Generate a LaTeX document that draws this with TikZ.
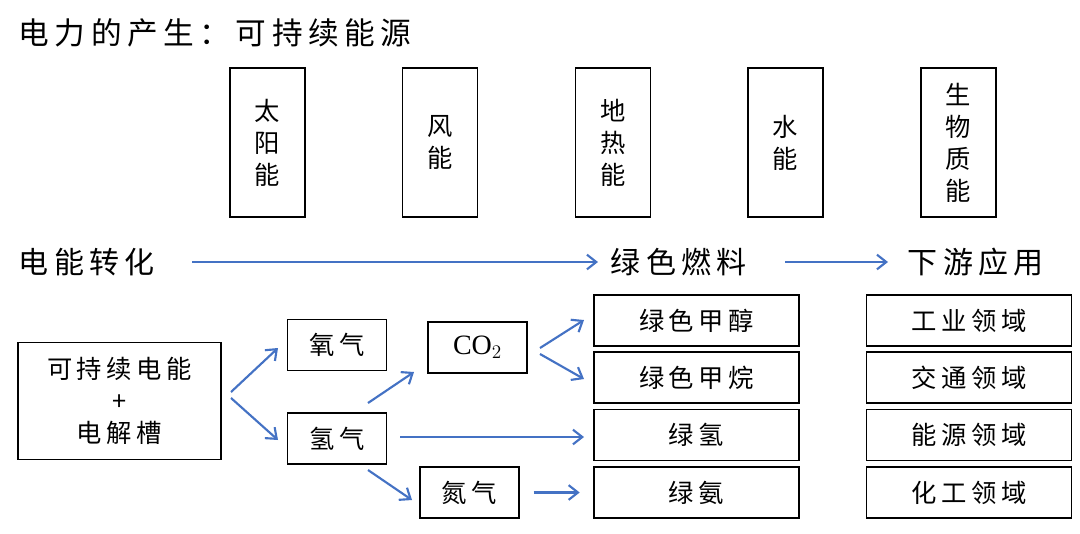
\documentclass[tikz,border=0pt]{standalone}
\usepackage{fontspec}
\setmainfont{Liberation Serif}
\newfontfamily\cjk[LetterSpace=18]{Noto Sans CJK SC}
\usetikzlibrary{arrows.meta}
\definecolor{arrow_blue}{RGB}{68,114,196}

\begin{document}
\begin{tikzpicture}[x=0.75pt,y=-0.75pt,font=\cjk\fontsize{19}{24}\selectfont]
    \tikzstyle{box}=[draw=black,line width=1.2pt,inner sep=0pt,align=center]
    \tikzstyle{vbox}=[style=box,minimum width=56pt,minimum height=112pt]
    \tikzstyle{fuel}=[style=box,minimum width=154pt,minimum height=38pt]
    \tikzstyle{gas}=[style=box,minimum width=74pt,minimum height=38pt]
    \tikzstyle{flow}=[draw=arrow_blue,line width=1.6pt,-{Straight Barb[length=7pt,width=11pt]}]
    \tikzstyle{head}=[anchor=west,font=\cjk\fontsize{22.5}{27}\selectfont]

    \useasboundingbox (0,0) rectangle (1080,533);
    \node[anchor=west,font=\cjk\fontsize{23}{27}\selectfont] (title) at (14,33) {电力的产生：可持续能源};

    % energy sources
    \node[vbox] (solar)   at (267.5,142.5) {太\\阳\\能};
    \node[vbox] (wind)    at (440,142.5)   {风\\能};
    \node[vbox] (geo)     at (613,142.5)   {地\\热\\能};
    \node[vbox] (water)   at (785.5,142.5) {水\\能};
    \node[vbox] (biomass) at (958.5,142.5) {生\\物\\质\\能};

    % headings
    \node[head] (conv) at (14,262)  {电能转化};
    \node[head] (fuel) at (606,262) {绿色燃料};
    \node[head] (use)  at (903,262) {下游应用};
    \coordinate (a1) at (192,262);
    \coordinate (a2) at (598,262);
    \coordinate (a3) at (785,262);
    \coordinate (a4) at (888,262);
    \draw[flow] (a1) -- (a2);
    \draw[flow] (a3) -- (a4);

    % conversion chain
    \node[box,minimum width=152pt,minimum height=88pt] (elec) at (119.5,401) {可持续电能\\+\\电解槽};
    \node[gas] (O2) at (337,345)   {氧气};
    \node[gas] (H2) at (337,438.5) {氢气};
    \node[gas,font=\fontsize{21}{25}\selectfont] (CO2) at (477.5,347.5) {CO$_2$};
    \node[gas] (N2) at (469.5,492.5) {氮气};

    \node[fuel] (meoh) at (696.5,320.5) {绿色甲醇};
    \node[fuel] (ch4)  at (696.5,377.5) {绿色甲烷};
    \node[fuel] (gh2)  at (696.5,435)   {绿氢};
    \node[fuel] (nh3)  at (696.5,492.5) {绿氨};

    \node[fuel] (ind)   at (969,320.5) {工业领域};
    \node[fuel] (trans) at (969,377.5) {交通领域};
    \node[fuel] (ener)  at (969,435)   {能源领域};
    \node[fuel] (chem)  at (969,492.5) {化工领域};

    \coordinate (e1) at (231,392);
    \coordinate (e2) at (231,398);
    \coordinate (h1) at (368,403);
    \coordinate (h2) at (368,470);
    \coordinate (h3) at (400,437);
    \coordinate (c1) at (540,348);
    \coordinate (c2) at (540,354);
    \draw[flow] (e1) -- (278,348);
    \draw[flow] (e2) -- (278,440);
    \draw[flow] (h1) -- (414,372);
    \draw[flow] (h2) -- (412,500);
    \draw[flow] (c1) -- (584,320);
    \draw[flow] (c2) -- (584,379);
    \draw[flow] (h3) -- (584,437);
    \draw[flow] (N2.east) ++(14,0) -- ([xshift=-10pt]nh3.west);
\end{tikzpicture}
\end{document}
